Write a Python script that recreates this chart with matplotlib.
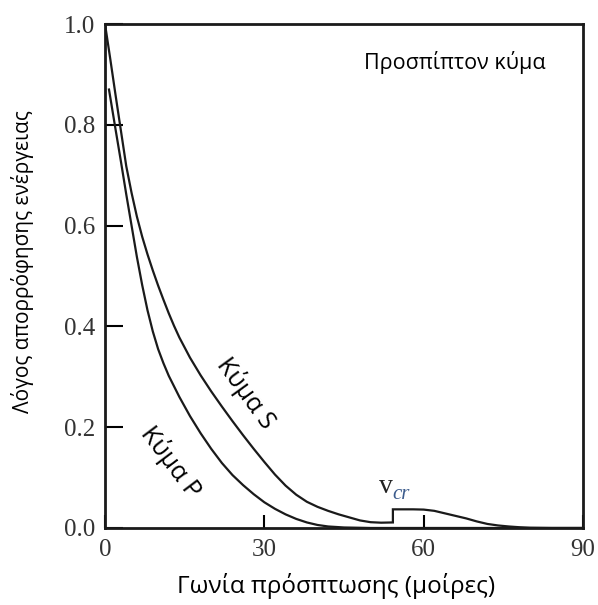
import matplotlib
matplotlib.use("Agg")
import matplotlib.pyplot as plt

# S wave (upper curve)
s_angle = [0, 1, 2, 3, 4, 5, 6, 7, 8, 9, 10, 11, 12, 13, 14, 16, 18, 20, 22, 24, 26, 28,
           30, 32, 34, 36, 38, 40, 42, 44, 46, 48, 50, 52, 54.2, 54.2, 58, 60, 62, 64,
           66, 68, 70, 72, 74, 76, 78, 80, 84, 90]
s_ratio = [1.0, 0.93, 0.858, 0.788, 0.718, 0.665, 0.618, 0.578, 0.543, 0.511, 0.481, 0.453,
           0.426, 0.401, 0.378, 0.338, 0.303, 0.271, 0.241, 0.212, 0.184, 0.157, 0.131, 0.106,
           0.084, 0.066, 0.052, 0.042, 0.034, 0.027, 0.021, 0.015, 0.0115, 0.0105, 0.011,
           0.037, 0.037, 0.0365, 0.034, 0.029, 0.024, 0.019, 0.013, 0.008, 0.005, 0.003,
           0.0015, 0.0005, 0.0, 0.0]

# P wave (lower curve)
p_angle = [0.75, 2, 3, 4, 5, 6, 7, 8, 9, 10, 11, 12, 14, 16, 18, 20, 22, 24, 26, 28, 30,
           32, 34, 36, 38, 40, 42, 45, 50, 90]
p_ratio = [0.87, 0.79, 0.727, 0.662, 0.60, 0.538, 0.482, 0.432, 0.39, 0.355, 0.327, 0.302,
           0.26, 0.222, 0.188, 0.157, 0.129, 0.105, 0.085, 0.067, 0.051, 0.038, 0.027,
           0.018, 0.011, 0.006, 0.003, 0.001, 0.0, 0.0]

x_ticks = [0, 30, 60, 90]
y_ticks = [0.0, 0.2, 0.4, 0.6, 0.8, 1.0]

sans = ['Open Sans', 'DejaVu Sans']
serif = ['Liberation Serif', 'DejaVu Serif']

fig = plt.figure(figsize=(5.98, 6.05), dpi=100)
ax = fig.add_axes([0.1756, 0.1273, 0.7994, 0.833])

ax.plot(s_angle, s_ratio, color='#1a1a1a', lw=1.6, solid_joinstyle='miter')
ax.plot(p_angle, p_ratio, color='#1a1a1a', lw=1.6)

ax.set_xlim(0, 90)
ax.set_ylim(0, 1.0)
ax.set_xticks(x_ticks)
ax.set_yticks(y_ticks)
ax.set_xticklabels([str(t) for t in x_ticks], family=serif, fontsize=18, color='#333333')
ax.set_yticklabels([f"{t:.1f}" for t in y_ticks], family=serif, fontsize=18, color='#333333')
ax.tick_params(axis='y', direction='in', length=13, width=1.5, pad=7)
ax.tick_params(axis='x', direction='in', length=9.5, width=1.5, pad=8)
for sp in ax.spines.values():
    sp.set_linewidth(2)
    sp.set_color('#1a1a1a')

ax.set_xlabel("Γωνία πρόσπτωσης (μοίρες)", family=sans, fontsize=17.5)
ax.set_ylabel("Λόγος απορρόφησης ενέργειας", family=sans, fontsize=15)
ax.xaxis.set_label_coords(0.484, -0.09)
ax.yaxis.set_label_coords(-0.148, 0.528)

ax.text(82.9, 0.911, "Προσπίπτον κύμα", family=sans, fontsize=15.5,
        ha='right', va='baseline')
ax.text(26.6, 0.268, "Κύμα S", family=sans, fontsize=18, rotation=-54,
        ha='center', va='center', rotation_mode='anchor')
ax.text(12.4, 0.131, "Κύμα P", family=sans, fontsize=18, rotation=-53,
        ha='center', va='center', rotation_mode='anchor')
ax.text(52.8, 0.083, "v", family=serif, fontsize=20, color='#222222',
        ha='center', va='center')
ax.text(55.8, 0.066, "cr", family=serif, fontsize=15, style='italic', color='#3b5b8c',
        ha='center', va='center')

fig.savefig("out.png", dpi=100)
